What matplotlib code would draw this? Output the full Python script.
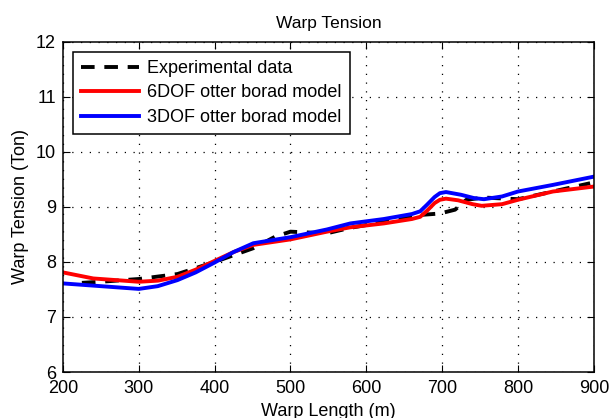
import matplotlib
matplotlib.use('Agg')
import matplotlib.pyplot as plt

plt.rcParams['font.family'] = ['Liberation Sans', 'DejaVu Sans']

# experimental data (dashed)
exp_x = [225, 260, 300, 351, 400, 451, 480, 500, 548, 579, 620, 667, 697, 717, 732, 755, 800, 846, 895]
exp_y = [7.62, 7.65, 7.69, 7.78, 8.00, 8.25, 8.46, 8.55, 8.52, 8.62, 8.72, 8.85, 8.88, 8.95, 9.13, 9.17, 9.14, 9.28, 9.43]

# 6DOF model (red)
red_x = [200, 240, 300, 325, 351, 375, 400, 425, 451, 500, 548, 579, 623, 660, 671, 680, 690, 697, 705, 721,
         740, 752, 779, 800, 846, 900]
red_y = [7.81, 7.70, 7.64, 7.66, 7.73, 7.86, 8.02, 8.18, 8.31, 8.41, 8.55, 8.63, 8.70, 8.78, 8.82, 8.93, 9.07, 9.13,
         9.15, 9.12, 9.05, 9.02, 9.05, 9.13, 9.28, 9.37]

# 3DOF model (blue)
blue_x = [200, 240, 300, 325, 351, 375, 400, 425, 451, 500, 548, 579, 623, 660, 671, 680, 690, 697, 705, 725,
          742, 755, 779, 800, 846, 900]
blue_y = [7.61, 7.57, 7.51, 7.56, 7.67, 7.81, 7.99, 8.18, 8.34, 8.45, 8.59, 8.70, 8.78, 8.87, 8.92, 9.04, 9.18, 9.25,
          9.27, 9.22, 9.16, 9.14, 9.19, 9.28, 9.40, 9.55]

fig = plt.figure(figsize=(6.11, 4.18), dpi=100)
ax = fig.add_axes([0.103, 0.11, 0.869, 0.79])

ax.plot(exp_x, exp_y, color='black', lw=2.8, ls=(0, (3.5, 2.5)), label='Experimental data')
ax.plot(red_x, red_y, color='red', lw=2.8, label='6DOF otter borad model')
ax.plot(blue_x, blue_y, color='blue', lw=2.8, label='3DOF otter borad model')

ax.set_xlim(200, 900)
ax.set_ylim(6, 12)
ax.set_xticks(range(200, 901, 100))
ax.set_yticks(range(6, 13))
ax.grid(True, ls=(0, (1, 6)), color='black', lw=0.9)
ax.tick_params(direction='in', top=True, right=True, labelsize=13, length=5)
ax.tick_params(axis='x', pad=6)
ax.tick_params(axis='y', pad=5)
for s in ax.spines.values():
    s.set_linewidth(1.1)

ax.set_title('Warp Tension', fontsize=12.5, pad=10)
ax.set_xlabel('Warp Length (m)', fontsize=13, labelpad=4)
ax.set_ylabel('Warp Tension (Ton)', fontsize=13, labelpad=5)

leg = ax.legend(loc='upper left', fontsize=13, fancybox=False, framealpha=1,
                edgecolor='black', handlelength=3.2, borderaxespad=0.55,
                labelspacing=0.42, handletextpad=0.45, borderpad=0.45)
leg.get_frame().set_linewidth(1.1)

fig.savefig('out.png', dpi=100)
